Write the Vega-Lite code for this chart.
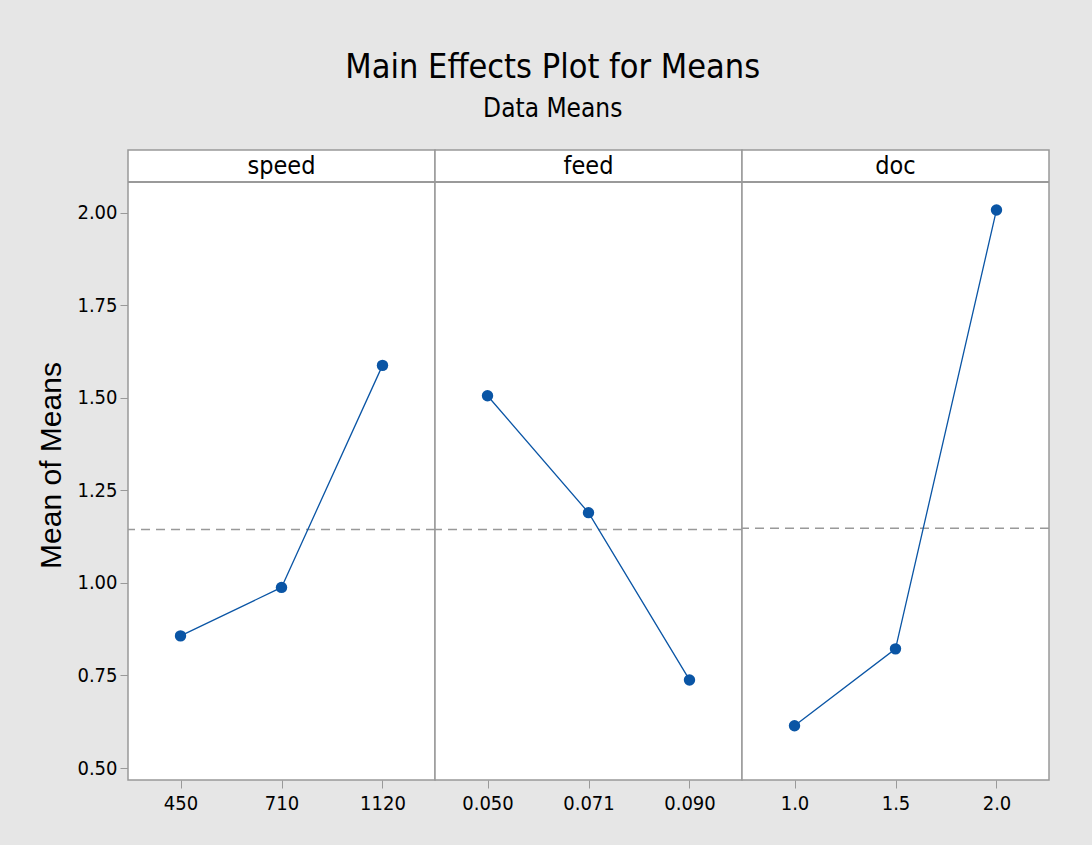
{
  "$schema": "https://vega.github.io/schema/vega-lite/v6.json",
  "background": "#e6e6e6",
  "padding": {"left": 36, "top": 51, "right": 46, "bottom": 60},
  "bounds": "flush",
  "title": {
    "text": "Main Effects Plot for Means",
    "subtitle": "Data Means",
    "anchor": "middle",
    "dx": 9,
    "font": "'DejaVu Sans Condensed', Roboto",
    "fontSize": 34,
    "fontWeight": "normal",
    "color": "#000000",
    "subtitleFont": "'DejaVu Sans Condensed', Roboto",
    "subtitleFontSize": 26,
    "subtitleColor": "#000000",
    "subtitlePadding": 11,
    "offset": 27
  },
  "data": {
    "values": [
      {"factor": "speed", "level": "450", "mean": 0.857},
      {"factor": "speed", "level": "710", "mean": 0.988},
      {"factor": "speed", "level": "1120", "mean": 1.588},
      {"factor": "feed", "level": "0.050", "mean": 1.506},
      {"factor": "feed", "level": "0.071", "mean": 1.19},
      {"factor": "feed", "level": "0.090", "mean": 0.738},
      {"factor": "doc", "level": "1.0", "mean": 0.614},
      {"factor": "doc", "level": "1.5", "mean": 0.822},
      {"factor": "doc", "level": "2.0", "mean": 2.008}
    ]
  },
  "facet": {
    "column": {
      "field": "factor",
      "type": "nominal",
      "sort": ["speed", "feed", "doc"],
      "title": null,
      "header": {"labels": false}
    }
  },
  "spacing": 0,
  "resolve": {"scale": {"x": "independent"}},
  "spec": {
    "width": 307,
    "height": 630,
    "encoding": {
      "y": {
        "type": "quantitative",
        "scale": {"domain": [0.4676, 2.17], "nice": false, "zero": false},
        "axis": {
          "title": "Mean of Means",
          "titleFont": "Liberation Sans",
          "titleFontSize": 30,
          "titleFontWeight": "normal",
          "titleColor": "#000000",
          "titlePadding": 10,
          "values": [0.5, 0.75, 1.0, 1.25, 1.5, 1.75, 2.0],
          "format": ".2f",
          "labelFont": "'DejaVu Sans Condensed', Roboto",
          "labelFontSize": 20,
          "labelColor": "#000000",
          "labelPadding": 3,
          "grid": false,
          "domain": false,
          "tickColor": "#999999",
          "tickSize": 8
        }
      }
    },
    "layer": [
      {
        "mark": {"type": "rule", "color": "#999999", "strokeWidth": 1.5},
        "encoding": {"y": {"datum": 2.0837, "type": "quantitative"}}
      },
      {
        "transform": [{"aggregate": [{"op": "count", "as": "n"}], "groupby": ["factor"]}],
        "mark": {"type": "text", "font": "'DejaVu Sans Condensed', Roboto", "fontSize": 25, "color": "#000000", "baseline": "middle"},
        "encoding": {
          "text": {"field": "factor", "type": "nominal"},
          "y": {"datum": 2.128, "type": "quantitative"}
        }
      },
      {
        "mark": {"type": "rule", "color": "#999999", "strokeWidth": 1.5, "strokeDash": [9, 6]},
        "encoding": {"y": {"field": "mean", "aggregate": "mean", "type": "quantitative"}}
      },
      {
        "mark": {"type": "line", "color": "#0a55a5", "strokeWidth": 1.3},
        "encoding": {
          "x": {
            "field": "level",
            "type": "ordinal",
            "sort": null,
            "scale": {"type": "point", "padding": 0.52},
            "axis": {
              "title": null,
              "labelAngle": 0,
              "labelFont": "'DejaVu Sans Condensed', Roboto",
              "labelFontSize": 20,
              "labelColor": "#000000",
              "labelPadding": 5,
              "domain": false,
              "grid": false,
              "tickColor": "#999999",
              "tickSize": 8
            }
          },
          "y": {"field": "mean", "type": "quantitative"}
        }
      },
      {
        "mark": {"type": "point", "filled": true, "shape": "circle", "color": "#0a55a5", "opacity": 1, "size": 130},
        "encoding": {
          "x": {"field": "level", "type": "ordinal", "sort": null},
          "y": {"field": "mean", "type": "quantitative"}
        }
      }
    ]
  },
  "config": {
    "view": {"stroke": "#999999", "strokeWidth": 1.5, "fill": "#ffffff"}
  }
}
